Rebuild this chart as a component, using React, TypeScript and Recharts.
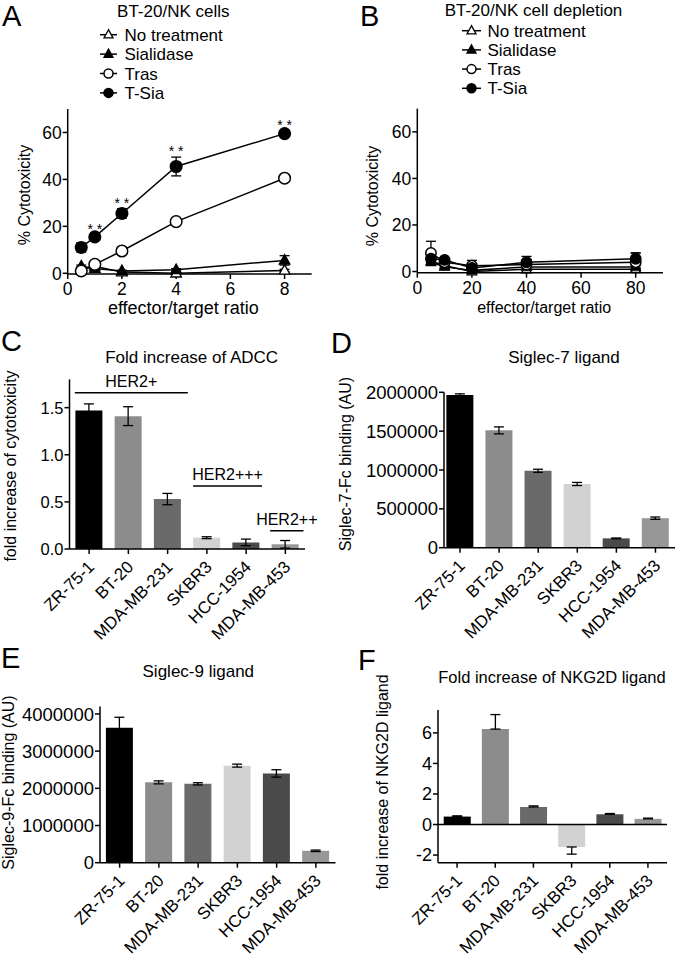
import React from 'react';
import {
  LineChart, Line, BarChart, Bar, XAxis, YAxis, ErrorBar, Cell, Legend, LabelList, ReferenceLine,
} from 'recharts';

const FONT = '"Liberation Sans", Arial, Helvetica, sans-serif';

// ---------- Panel A: BT-20/NK cells ----------
const ratioA = [0.5, 1, 2, 4, 8];
const noTreatA = [1.5, 3, 0.5, 0, 1.2];
const noTreatErrA = [0.5, 1, 0.3, 0.3, 0.5];
const sialA = [3, 2, 1, 1.5, 5.5];
const sialErrA = [0.5, 0.5, 0.3, 0.5, 2];
const trasA = [1, 3.8, 9.5, 22, 40.5];
const trasErrA = [0.3, 1.5, 0.5, 0.5, 0.5];
const tsiaA = [11, 15.5, 25.5, 45.5, 59.5];
const tsiaErrA = [2, 1, 2, 4, 1];
const sigA = ['', '* *', '* *', '* *', '* *'];

// ---------- Panel B: BT-20/NK cell depletion ----------
const ratioB = [5, 10, 20, 40, 80];
const noTreatB = [4.5, 2.5, 0, 1, 1];
const noTreatErrB = [0.5, 0.5, 0.3, 0.5, 0.5];
const sialB = [4, 2, 0.5, 2, 2];
const sialErrB = [0.5, 0.5, 0.5, 0.5, 0.5];
const trasB = [8, 4, 2.5, 3, 4];
const trasErrB = [5, 1, 2.3, 3.5, 4];
const tsiaB = [5.5, 5, 1.5, 4, 5.5];
const tsiaErrB = [1.5, 1, 1, 1, 2.5];

// ---------- Bar panels ----------
const cellLines = ['ZR-75-1', 'BT-20', 'MDA-MB-231', 'SKBR3', 'HCC-1954', 'MDA-MB-453'];
const barColors = ['#000000', '#8c8c8c', '#6a6a6a', '#d2d2d2', '#4a4a4a', '#979797'];

const adcc = [1.47, 1.41, 0.53, 0.12, 0.07, 0.05];
const adccErr = [0.07, 0.1, 0.06, 0.01, 0.035, 0.04];

const siglec7 = [1965000, 1510000, 990000, 820000, 120000, 380000];
const siglec7Err = [15000, 45000, 20000, 20000, 5000, 15000];

const siglec9 = [3630000, 2160000, 2120000, 2610000, 2400000, 320000];
const siglec9Err = [280000, 40000, 30000, 40000, 100000, 20000];

const nkg2d = [0.52, 6.25, 1.15, -1.47, 0.67, 0.37];
const nkg2dErr = [0.05, 0.95, 0.07, 0.47, 0.05, 0.05];

const legendOrder = ['noTreat', 'sial', 'tras', 'tsia'];
const legendNames = { noTreat: 'No treatment', sial: 'Sialidase', tras: 'Tras', tsia: 'T-Sia' };
const markerKinds: Record<string, string> = { noTreat: 'openTri', sial: 'fillTri', tras: 'openCircle', tsia: 'fillCircle' };

const dataA = ratioA.map((x, i) => ({
  x,
  noTreat: noTreatA[i], noTreatErr: noTreatErrA[i],
  sial: sialA[i], sialErr: sialErrA[i],
  tras: trasA[i], trasErr: trasErrA[i],
  tsia: tsiaA[i], tsiaErr: tsiaErrA[i],
  starY: tsiaA[i] + tsiaErrA[i], sig: sigA[i],
}));

const dataB = ratioB.map((x, i) => ({
  x,
  noTreat: noTreatB[i], noTreatErr: noTreatErrB[i],
  sial: sialB[i], sialErr: sialErrB[i],
  tras: trasB[i], trasErr: trasErrB[i],
  tsia: tsiaB[i], tsiaErr: tsiaErrB[i],
}));

const dataC = cellLines.map((name, i) => ({ name, v: adcc[i], e: adccErr[i] }));
const dataD = cellLines.map((name, i) => ({ name, v: siglec7[i], e: siglec7Err[i] }));
const dataE = cellLines.map((name, i) => ({ name, v: siglec9[i], e: siglec9Err[i] }));
const dataF = cellLines.map((name, i) => ({
  name, v: nkg2d[i], e: nkg2d[i] >= 0 ? [0, nkg2dErr[i]] : [nkg2dErr[i], 0],
}));

function Marker({ kind, cx, cy, r = 5.5 }: any) {
  if (cx == null || cy == null) return null;
  if (kind === 'openTri' || kind === 'fillTri') {
    const pts = `${cx},${cy - r - 0.5} ${cx - r},${cy + r * 0.7} ${cx + r},${cy + r * 0.7}`;
    return <polygon points={pts} fill={kind === 'fillTri' ? '#000' : '#fff'} stroke="#000" strokeWidth={1.3} />;
  }
  return <circle cx={cx} cy={cy} r={r} fill={kind === 'fillCircle' ? '#000' : '#fff'} stroke="#000" strokeWidth={1.5} />;
}

const makeDot = (kind: string, r: number) => (p: any) => (
  <Marker key={`dot-${kind}-${p.index}`} kind={kind} cx={p.cx} cy={p.cy} r={r} />
);

const makeLegend = (lineLen: number, textX: number, spacing: number, fontSize: number) => (props: any) => {
  const items = (props.payload || [])
    .filter((e: any) => markerKinds[e.dataKey as string])
    .sort((a: any, b: any) => legendOrder.indexOf(a.dataKey) - legendOrder.indexOf(b.dataKey));
  return (
    <svg width={200} height={items.length * spacing + 10} style={{ overflow: 'visible', display: 'block' }}>
      {items.map((e: any, i: number) => {
        const by = 20.7 + i * spacing;
        const my = by - 6;
        return (
          <g key={String(e.dataKey)}>
            <line x1={0} x2={lineLen} y1={my} y2={my} stroke="#000" strokeWidth={1.5} />
            <Marker kind={markerKinds[e.dataKey]} cx={lineLen / 2} cy={my} r={4.5} />
            <text x={textX} y={by} fontSize={fontSize} fontFamily={FONT} fill="#000">{e.value}</text>
          </g>
        );
      })}
    </svg>
  );
};

const starLabel = (p: any) => {
  const vb = p.viewBox || {};
  const x = p.x ?? vb.x;
  const y = p.y ?? vb.y;
  if (!p.value) return null;
  return (
    <text key={`star-${p.index}`} x={x} y={y - 1} textAnchor="middle" fontSize={14} fontFamily={FONT} fill="#000">
      {p.value}
    </text>
  );
};

const RotTick = (props: any) => {
  const { x, y, payload } = props;
  return (
    <text transform={`translate(${x + 6},${y + 14}) rotate(-45)`} textAnchor="end" fontSize={17} fontFamily={FONT} fill="#000">
      {payload.value}
    </text>
  );
};

const bracket = (label: string, extL: number, extR: number) => (p: any) => {
  const x1 = p.x1 - extL;
  const x2 = p.x2 + extR;
  return (
    <g>
      <line x1={x1} y1={p.y1} x2={x2} y2={p.y2} stroke="#000" strokeWidth={1.4} />
      <text x={(x1 + x2) / 2} y={p.y1 - 6} textAnchor="middle" fontSize={16} fontFamily={FONT} fill="#000">{label}</text>
    </g>
  );
};

const axisLine = { stroke: '#000', strokeWidth: 1.5 };
const tickLine = { stroke: '#000', strokeWidth: 1.5 };
const intFmt = (v: number) => String(v);

function LinePanel({ data, width, height, margin, yWidth, xDomain, xTicks, legendPos, legend, showStars, dotR, xTickFont }: any) {
  return (
    <LineChart width={width} height={height} data={data} margin={margin} style={{ fontFamily: FONT }}>
      <XAxis type="number" dataKey="x" domain={xDomain} ticks={xTicks} height={30}
        axisLine={axisLine} tickLine={tickLine} tickSize={5} tickMargin={4}
        tick={{ fontSize: xTickFont, fill: '#000', fontFamily: FONT }} />
      <YAxis type="number" domain={[0, 70]} ticks={[0, 20, 40, 60]} width={yWidth}
        axisLine={axisLine} tickLine={tickLine} tickSize={5} tickMargin={1}
        tick={{ fontSize: 17.5, fill: '#000', fontFamily: FONT }} />
      <Legend layout="vertical" align="center" verticalAlign="middle" content={legend}
        wrapperStyle={{ left: legendPos[0], top: legendPos[1], width: 200, height: 90 }} />
      <Line dataKey="noTreat" name={legendNames.noTreat} stroke="#000" strokeWidth={1.5} isAnimationActive={false}
        dot={makeDot('openTri', dotR - 0.5)} activeDot={false}>
        <ErrorBar dataKey="noTreatErr" direction="y" width={5} stroke="#000" strokeWidth={1.3} />
      </Line>
      <Line dataKey="sial" name={legendNames.sial} stroke="#000" strokeWidth={1.5} isAnimationActive={false}
        dot={makeDot('fillTri', dotR - 0.5)} activeDot={false}>
        <ErrorBar dataKey="sialErr" direction="y" width={5} stroke="#000" strokeWidth={1.3} />
      </Line>
      <Line dataKey="tras" name={legendNames.tras} stroke="#000" strokeWidth={1.5} isAnimationActive={false}
        dot={makeDot('openCircle', dotR)} activeDot={false}>
        <ErrorBar dataKey="trasErr" direction="y" width={5} stroke="#000" strokeWidth={1.3} />
      </Line>
      <Line dataKey="tsia" name={legendNames.tsia} stroke="#000" strokeWidth={1.5} isAnimationActive={false}
        dot={makeDot('fillCircle', dotR)} activeDot={false}>
        <ErrorBar dataKey="tsiaErr" direction="y" width={5} stroke="#000" strokeWidth={1.3} />
      </Line>
      {showStars && (
        <Line dataKey="starY" stroke="none" dot={false} activeDot={false} legendType="none" isAnimationActive={false}>
          <LabelList dataKey="sig" content={starLabel} />
        </Line>
      )}
    </LineChart>
  );
}

function BarPanel({ data, width, height, margin, yWidth, xHeight, domain, ticks, yFont, fmt, padding, children }: any) {
  return (
    <BarChart width={width} height={height} data={data} margin={margin} barCategoryGap="15%" style={{ fontFamily: FONT, overflow: 'visible' }}>
      <XAxis dataKey="name" type="category" height={xHeight} interval={0} padding={padding}
        axisLine={axisLine} tickLine={tickLine} tickSize={5} tickMargin={0} tick={<RotTick />} />
      <YAxis type="number" domain={domain} ticks={ticks} width={yWidth} tickFormatter={fmt}
        axisLine={axisLine} tickLine={tickLine} tickSize={5} tickMargin={1}
        tick={{ fontSize: yFont, fill: '#000', fontFamily: FONT }} />
      <Bar dataKey="v" isAnimationActive={false}>
        {data.map((d: any, i: number) => <Cell key={d.name} fill={barColors[i]} />)}
        <ErrorBar dataKey="e" direction="y" width={5} stroke="#000" strokeWidth={1.3} />
      </Bar>
      {children}
    </BarChart>
  );
}

const abs = (left: number, top: number): React.CSSProperties => ({ position: 'absolute', left, top });

export default function App() {
  const T = (props: any) => <text fontFamily={FONT} fill="#000" {...props} />;
  const VT = ({ x, y, size = 16, children }: any) => (
    <text transform={`translate(${x},${y}) rotate(-90)`} textAnchor="middle" fontSize={size} fontFamily={FONT} fill="#000">{children}</text>
  );
  return (
    <div style={{ position: 'absolute', left: 0, top: 0, width: 677, height: 956, background: '#fff', fontFamily: FONT, overflow: 'hidden' }}>
      <style>{'.recharts-surface{overflow:visible}'}</style>
      <div style={abs(0, 0)}>
        <LinePanel data={dataA} width={340} height={320}
          margin={{ top: 109, right: 28.3, bottom: 16, left: 0 }} yWidth={67.7}
          xDomain={[0, 9]} xTicks={[0, 2, 4, 6, 8]} legendPos={[99.5, 20]}
          legend={makeLegend(17, 24.5, 19.4, 17)} showStars dotR={5.8} xTickFont={17.5} />
      </div>
      <div style={abs(338, 0)}>
        <LinePanel data={dataB} width={339} height={320}
          margin={{ top: 108.6, right: 14, bottom: 17.3, left: 0 }} yWidth={79.3}
          xDomain={[0, 90]} xTicks={[0, 20, 40, 60, 80]} legendPos={[124, 16]}
          legend={makeLegend(19, 25.5, 19.2, 17)} showStars={false} dotR={5.2} xTickFont={17.5} />
      </div>
      <div style={abs(0, 320)}>
        <BarPanel data={dataC} width={340} height={320} margin={{ top: 59.4, right: 35, bottom: 0, left: 0 }}
          yWidth={69.5} xHeight={91} domain={[0, 1.8]} ticks={[0, 0.5, 1, 1.5]} yFont={16.5}
          fmt={(v: number) => v.toFixed(1)} padding={{ left: 0, right: 0 }}>
          <ReferenceLine segment={[{ x: 'ZR-75-1', y: 1.659 }, { x: 'MDA-MB-231', y: 1.659 }]}
            ifOverflow="visible" shape={bracket('HER2+', 14.3, 20.2)} />
          <ReferenceLine segment={[{ x: 'SKBR3', y: 0.669 }, { x: 'HCC-1954', y: 0.669 }]}
            ifOverflow="visible" shape={bracket('HER2+++', 13.7, 15.9)} />
          <ReferenceLine segment={[{ x: 'MDA-MB-453', y: 0.194 }, { x: 'MDA-MB-453', y: 0.194 }]}
            ifOverflow="visible" shape={bracket('HER2++', 15.2, 18.1)} />
        </BarPanel>
      </div>
      <div style={abs(338, 320)}>
        <BarPanel data={dataD} width={339} height={320} margin={{ top: 72.3, right: 2, bottom: 0, left: 0 }}
          yWidth={106} xHeight={92.3} domain={[0, 2000000]} ticks={[0, 500000, 1000000, 1500000, 2000000]}
          yFont={18.5} fmt={intFmt} padding={{ left: -3.5, right: 0 }} />
      </div>
      <div style={abs(0, 640)}>
        <BarPanel data={dataE} width={340} height={316} margin={{ top: 66.5, right: 4.5, bottom: 0, left: 0 }}
          yWidth={100} xHeight={93.3} domain={[0, 4200000]} ticks={[0, 1000000, 2000000, 3000000, 4000000]}
          yFont={18.5} fmt={intFmt} padding={{ left: 0, right: 0 }} />
      </div>
      <div style={abs(338, 640)}>
        <BarPanel data={dataF} width={339} height={316} margin={{ top: 70, right: 10, bottom: 0, left: 0 }}
          yWidth={100} xHeight={93.3} domain={[-2.5, 7.5]} ticks={[-2, 0, 2, 4, 6]}
          yFont={18} fmt={intFmt} padding={{ left: 0, right: 0 }}>
          <ReferenceLine y={0} stroke="#000" strokeWidth={1.5} />
        </BarPanel>
      </div>

      <svg width={677} height={956} style={{ position: 'absolute', left: 0, top: 0, pointerEvents: 'none', overflow: 'visible' }}>
        {/* panel letters */}
        <T x={2} y={26} fontSize={29}>A</T>
        <T x={360} y={26} fontSize={29}>B</T>
        <T x={1} y={351} fontSize={29}>C</T>
        <T x={331} y={353} fontSize={29}>D</T>
        <T x={1} y={668} fontSize={29}>E</T>
        <T x={358} y={670} fontSize={29}>F</T>
        {/* titles */}
        <T x={173.3} y={17} fontSize={17} textAnchor="middle">BT-20/NK cells</T>
        <T x={533.5} y={16} fontSize={17} textAnchor="middle">BT-20/NK cell depletion</T>
        <T x={191.7} y={363} fontSize={17} textAnchor="middle">Fold increase of ADCC</T>
        <T x={564} y={363} fontSize={17} textAnchor="middle">Siglec-7 ligand</T>
        <T x={198.3} y={677} fontSize={17} textAnchor="middle">Siglec-9 ligand</T>
        <T x={552} y={682.5} fontSize={16.5} textAnchor="middle">Fold increase of NKG2D ligand</T>
        {/* x axis titles */}
        <T x={183.3} y={314} fontSize={18} textAnchor="middle">effector/target ratio</T>
        <T x={544.2} y={312.5} fontSize={16} textAnchor="middle">effector/target ratio</T>
        {/* y axis titles */}
        <VT x={30} y={195}>% Cytotoxicity</VT>
        <VT x={378} y={196}>% Cytotoxicity</VT>
        <VT x={15.5} y={466}>fold increase of cytotoxicity</VT>
        <VT x={351.4} y={464}>Siglec-7-Fc binding (AU)</VT>
        <VT x={14.4} y={782.5}>Siglec-9-Fc binding (AU)</VT>
        <VT x={388} y={782}>fold increase of NKG2D ligand</VT>
      </svg>
    </div>
  );
}
